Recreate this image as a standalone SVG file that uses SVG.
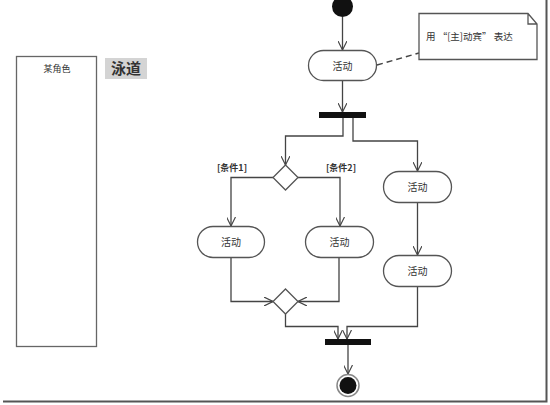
<svg xmlns="http://www.w3.org/2000/svg" width="550" height="405" viewBox="0 0 550 405">
<style>
.ln{fill:none;stroke:#444;stroke-width:1.3}
.act{fill:#fff;stroke:#555;stroke-width:1.3}
.t{font-family:"Noto Sans CJK SC","Liberation Serif",sans-serif;font-size:10px;fill:#333;text-anchor:middle}
.bar{fill:#111}
</style>
<defs>
<marker id="ar" viewBox="0 0 10 10" refX="10" refY="5" markerWidth="9" markerHeight="9" markerUnits="userSpaceOnUse" orient="auto">
<path d="M0,0 L10,5 L0,10" fill="none" stroke="#444" stroke-width="1.3"/>
</marker>
</defs>
<rect width="550" height="405" fill="#fff"/>
<g id="border"><path d="M546.5,0 V401.5 H3" fill="none" stroke="#555" stroke-width="2"/></g>
<g id="lane">
<rect x="16.5" y="56.5" width="80" height="290" fill="#fff" stroke="#666" stroke-width="1.3"/>
<text class="t" x="57" y="72" style="font-size:9px">某角色</text>
</g>
<g id="lane-label">
<rect x="105" y="58" width="42" height="21" fill="#d4d4d4"/>
<text x="126" y="74" font-family="Noto Sans CJK SC,sans-serif" font-size="15" font-weight="bold" fill="#333" text-anchor="middle">泳道</text>
</g>
<g id="connectors">
<line class="ln" x1="342.5" y1="17" x2="342.5" y2="50" marker-end="url(#ar)"/>
<line class="ln" x1="342.5" y1="80" x2="342.5" y2="112" marker-end="url(#ar)"/>
<line x1="377" y1="65" x2="419" y2="53" stroke="#444" stroke-width="1.5" stroke-dasharray="6,4"/>
<polyline class="ln" points="343,118 343,136 285.5,136 285.5,165" marker-end="url(#ar)"/>
<polyline class="ln" points="353,118 353,141 417.5,141 417.5,171" marker-end="url(#ar)"/>
<polyline class="ln" points="273,177.5 231,177.5 231,226" marker-end="url(#ar)"/>
<polyline class="ln" points="298,177.5 340,177.5 340,226" marker-end="url(#ar)"/>
<line class="ln" x1="417.5" y1="203" x2="417.5" y2="255" marker-end="url(#ar)"/>
<polyline class="ln" points="231,258 231,301.5 273,301.5" marker-end="url(#ar)"/>
<polyline class="ln" points="339,258 339,301.5 298,301.5" marker-end="url(#ar)"/>
<polyline class="ln" points="285.5,314 285.5,326.5 338,326.5 338,339" marker-end="url(#ar)"/>
<polyline class="ln" points="417.5,287 417.5,326.5 347,326.5 347,339" marker-end="url(#ar)"/>
<line class="ln" x1="348" y1="345" x2="348" y2="374" marker-end="url(#ar)"/>
</g>
<g id="start"><circle cx="342.5" cy="6.5" r="10.5" fill="#111"/></g>
<g id="act1"><rect class="act" x="308.5" y="50.5" width="68" height="30" rx="15"/><text class="t" x="342.5" y="69.5">活动</text></g>
<g id="note">
<path d="M419,13.5 H528 L537,24 V59.5 H419 Z M528,13.5 V24 H537" fill="#fff" stroke="#555" stroke-width="1.3"/>
<text class="t" x="426" y="40" style="text-anchor:start;font-size:9.5px">用 “[主]动宾” 表达</text>
</g>
<g id="fork"><rect class="bar" x="319" y="112" width="47" height="6"/></g>
<g id="decision">
<polygon points="285.5,165 298,177.5 285.5,190 273,177.5" fill="#fff" stroke="#555" stroke-width="1.3"/>
<text class="t" x="232" y="171" style="font-size:9px;font-weight:bold">[条件1]</text>
<text class="t" x="341" y="171" style="font-size:9px;font-weight:bold">[条件2]</text>
</g>
<g id="act2"><rect class="act" x="197.5" y="226.5" width="67" height="31" rx="15.5"/><text class="t" x="231" y="246">活动</text></g>
<g id="act3"><rect class="act" x="305.5" y="226.5" width="68" height="31" rx="15.5"/><text class="t" x="339.5" y="246">活动</text></g>
<g id="act4"><rect class="act" x="383.5" y="171.5" width="68" height="31" rx="15.5"/><text class="t" x="417.5" y="191">活动</text></g>
<g id="act5"><rect class="act" x="383.5" y="255.5" width="68" height="31" rx="15.5"/><text class="t" x="417.5" y="275">活动</text></g>
<g id="merge"><polygon points="285.5,289 298,301.5 285.5,314 273,301.5" fill="#fff" stroke="#555" stroke-width="1.3"/></g>
<g id="join"><rect class="bar" x="325" y="339" width="46" height="6"/></g>
<g id="end"><circle cx="348" cy="385.5" r="11" fill="#fff" stroke="#888" stroke-width="1.5"/><circle cx="348" cy="385.5" r="8.5" fill="#111"/></g>
</svg>
